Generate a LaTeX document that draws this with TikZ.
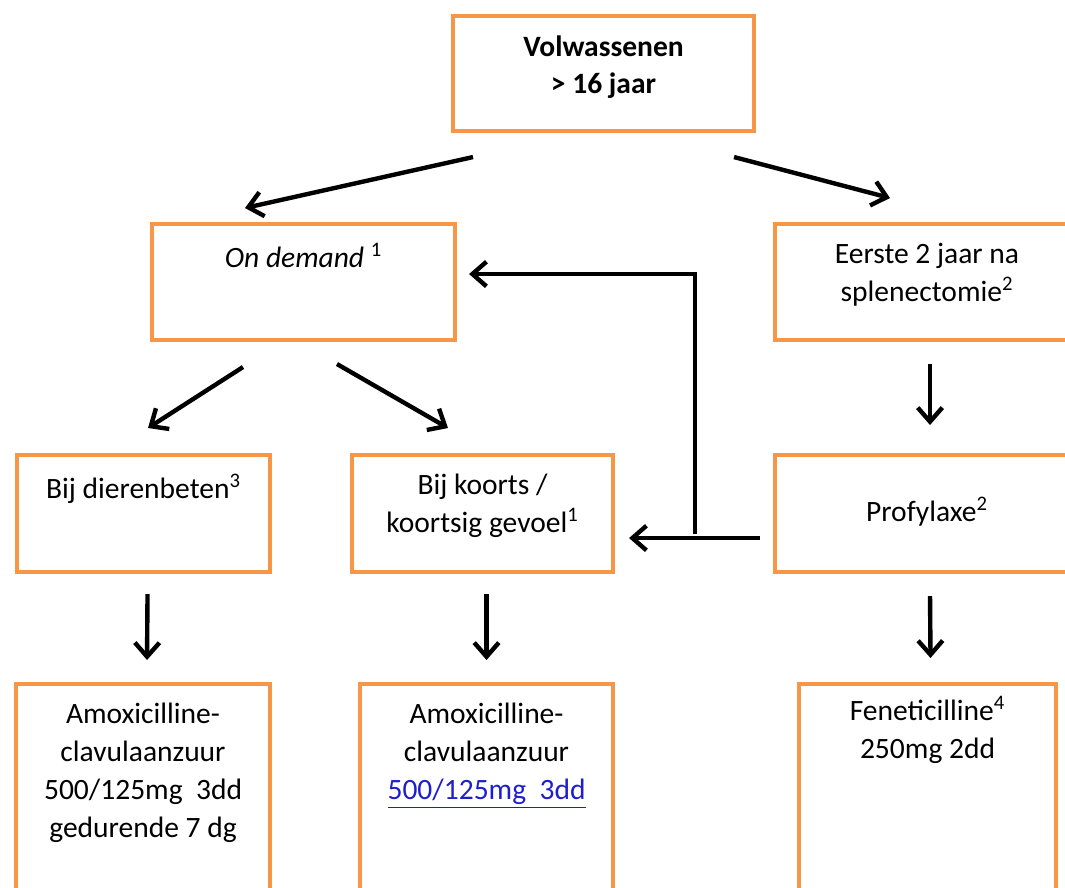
\documentclass[tikz,border=0pt]{standalone}
\usepackage{fontspec}
\setmainfont{Carlito}
\usepackage{tikz}
\usetikzlibrary{arrows.meta, calc, positioning}
\definecolor{boxorange}{RGB}{247,150,70}
\definecolor{linkblue}{RGB}{30,30,205}

\begin{document}
\begin{tikzpicture}[% styles used in the flowchart
          x = 0.02cm, y = -0.02cm,
          > = {Straight Barb[length=8pt, width=14pt]},
flowbox/.style args = {#1/#2}{draw=boxorange, line width=2.3pt,
              minimum width=#1*0.02cm, minimum height=#2*0.02cm,
              inner sep=0pt, anchor=north west},
boxtext/.style = {anchor=north, align=center, inner sep=0pt,
              yshift=-12pt, font=\fontsize{16.8pt}{21.5pt}\selectfont},
flow/.style = {->, line width=2.5pt}
                        ]
	\useasboundingbox (0,0) rectangle (1065,887);

	% boxes
	\node[flowbox=301/115, label={[boxtext]north:{\textbf{Volwassenen}\\\textbf{> 16 jaar}}}] (adult) at (451,14) {};
	\node[flowbox=303/116, label={[boxtext]north:{\textit{On demand} \textsuperscript{1}}}] (ondemand) at (150,222) {};
	\node[flowbox=304/116, label={[boxtext]north:{Eerste 2 jaar na\\splenectomie\textsuperscript{2}}}] (splen) at (773,222) {};
	\node[flowbox=253/117, label={[boxtext]north:{Bij dierenbeten\textsuperscript{3}}}] (bite) at (15,453) {};
	\node[flowbox=261/117, label={[boxtext]north:{Bij koorts /\\koortsig gevoel\textsuperscript{1}}}] (fever) at (350,453) {};
	\node[flowbox=304/117, label={[boxtext, yshift=-13pt]north:{Profylaxe\textsuperscript{2}}}] (prophyl) at (773,453) {};
	\node[flowbox=254/240, label={[boxtext]north:{Amoxicilline-\\clavulaanzuur\\500/125mg\ \ 3dd\\gedurende 7 dg}}] (amoxbite) at (14,682) {};
	\node[flowbox=253/240, label={[boxtext]north:{Amoxicilline-\\clavulaanzuur\\\textcolor{linkblue}{\underline{500/125mg\ \ 3dd}}}}] (amoxfever) at (358,682) {};
	\node[flowbox=257/240, label={[boxtext, yshift=4pt]north:{Feneticilline\textsuperscript{4}\\250mg 2dd}}] (fenetic) at (797,682) {};

	% arrows
	\draw[flow] ([shift={(22,24)}]adult.south west) -- ([shift={(95,-14)}]ondemand.north west);
	\draw[flow] ([shift={(-22,24)}]adult.south east) -- ([shift={(117,-24)}]splen.north west);
	\draw[flow] ([shift={(93,25)}]ondemand.south west) -- ([shift={(133,-25)}]bite.north west);
	\draw[flow] ([shift={(187,22)}]ondemand.south west) -- ([shift={(98,-25)}]fever.north west);
	\draw[flow] ([shift={(3,22)}]splen.south) -- ([shift={(3,-28)}]prophyl.north);
	\draw[flow] ([shift={(4,20)}]bite.south) -- ([shift={(4,-22)}]amoxbite.north);
	\draw[flow] ([shift={(4,20)}]fever.south) -- ([shift={(0,-22)}]amoxfever.north);
	\draw[flow] ([shift={(3,22)}]prophyl.south) -- ([shift={(3,-24)}]fenetic.north);

	% profylaxe back to fever and on demand
	\coordinate (split) at (695,534);
	\draw[flow] ([shift={(-13,-36)}]prophyl.south west) -- ([shift={(14,-36)}]fever.south east);
	\draw[flow] (split) |- ([shift={(12,-8)}]ondemand.east);
\end{tikzpicture}
\end{document}
